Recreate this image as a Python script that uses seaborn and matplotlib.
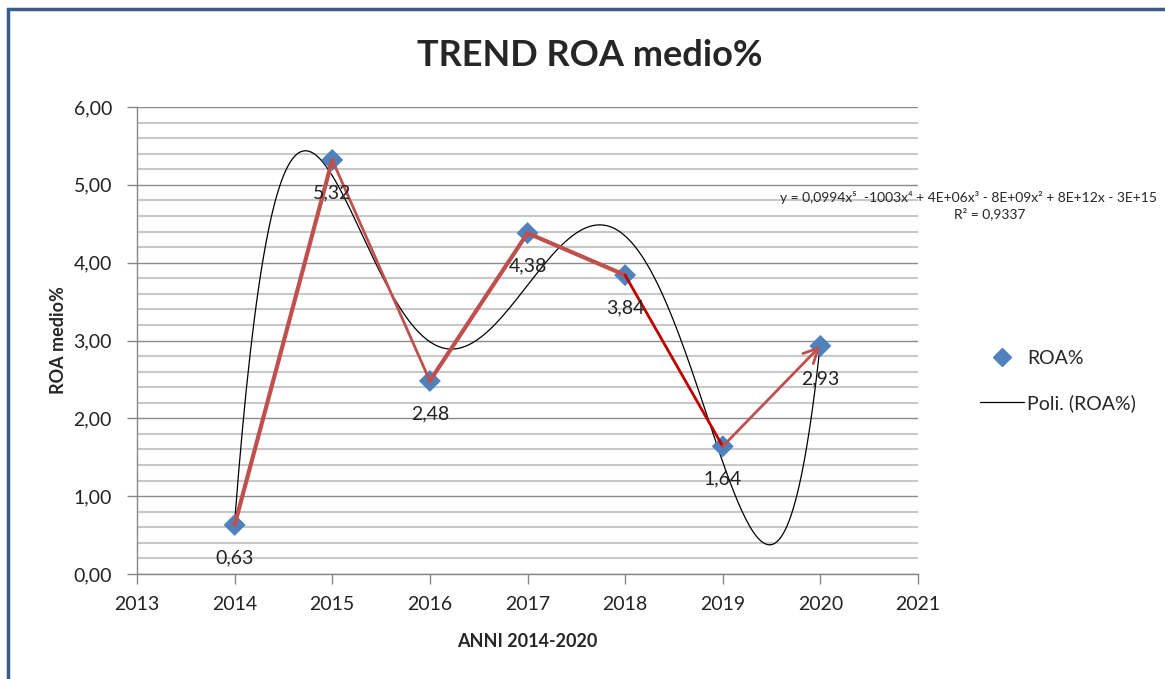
import numpy as np
import pandas as pd
import matplotlib.pyplot as plt
import seaborn as sns
from matplotlib.lines import Line2D
from matplotlib.patches import Rectangle
from matplotlib.ticker import MultipleLocator, FuncFormatter

# dati
anni = [2014, 2015, 2016, 2017, 2018, 2019, 2020]
roa = [0.63, 5.32, 2.48, 4.38, 3.84, 1.64, 2.93]
equazione = "y = 0,0994x\u2075  -1003x\u2074 + 4E+06x\u00b3 - 8E+09x\u00b2 + 8E+12x - 3E+15"
r_quadro = "R\u00b2 = 0,9337"

sns.set_theme(style='white')
plt.rcParams['font.family'] = ['Lato', 'DejaVu Sans']

df = pd.DataFrame({'anno': anni, 'roa': roa})

fig = plt.figure(figsize=(11.65, 6.79), dpi=100)
ax = fig.add_axes([137 / 1165, 1 - 574 / 679, (918 - 137) / 1165, (574 - 107) / 679])

#cornice del grafico
fig.patches.append(Rectangle((8 / 1165, -0.1), 1.2, 1 - 9 / 679 + 0.1, transform=fig.transFigure,
                             fill=False, edgecolor='#385d8a', lw=2.5))

#region trend polinomiale (grado 5)
poly = np.polynomial.Polynomial.fit(df['anno'], df['roa'], 5)
xs = np.linspace(min(anni), max(anni), 300)
sns.lineplot(x=xs, y=poly(xs), color='black', lw=0.9, ax=ax, zorder=3)
#endregion

sns.scatterplot(data=df, x='anno', y='roa', marker='D', s=125, color='#4f81bd',
                edgecolor='none', ax=ax, zorder=4)

# frecce rosse disegnate a mano
seg_colors = ['#c0504d', '#c0504d', '#c0504d', '#c0504d', '#c00000', '#c0504d']
seg_widths = [3, 2, 3, 3, 2, 2]
seg_styles = ['-', '-', '-', '-', '-', '->']
for i in range(len(anni) - 1):
    ax.annotate('', xy=(anni[i + 1], roa[i + 1]), xytext=(anni[i], roa[i]),
                arrowprops=dict(arrowstyle=seg_styles[i], color=seg_colors[i], lw=seg_widths[i],
                                shrinkA=0, shrinkB=0, mutation_scale=26),
                zorder=5)

for x, y in zip(anni, roa):
    ax.annotate(f"{y:.2f}".replace('.', ','), xy=(x, y), xytext=(0, -33), textcoords='offset pixels',
                ha='center', va='center', fontsize=14, color='#222222', zorder=6)

ax.set_xlim(2013, 2021)
ax.set_ylim(0, 6)
ax.xaxis.set_major_locator(MultipleLocator(1))
ax.yaxis.set_major_locator(MultipleLocator(1))
ax.yaxis.set_minor_locator(MultipleLocator(0.2))
ax.yaxis.set_major_formatter(FuncFormatter(lambda v, p: f"{v:.2f}".replace('.', ',')))
ax.xaxis.set_major_formatter(FuncFormatter(lambda v, p: f"{int(v)}"))

ax.grid(axis='y', which='major', color='#8a8a8a', lw=1)
ax.grid(axis='y', which='minor', color='#c8c8c8', lw=1.5)
ax.set_axisbelow(True)
for s in ['top', 'right']:
    ax.spines[s].set_visible(False)
for s in ['left', 'bottom']:
    ax.spines[s].set_color('#868686')
    ax.spines[s].set_linewidth(1)
ax.tick_params(axis='both', which='major', direction='out', length=7, width=1, color='#868686',
               labelsize=14, labelcolor='#222222', left=True, bottom=True)
ax.tick_params(axis='y', which='major', pad=11)
ax.tick_params(axis='x', which='major', pad=9)

ax.set_xlabel('ANNI 2014-2020', fontsize=13, fontweight='bold', labelpad=14)
ax.set_ylabel('ROA medio%', fontsize=13, fontweight='bold', labelpad=5)
fig.text(0.506, 1 - 55 / 679, 'TREND ROA medio%', ha='center', va='center', fontsize=26, fontweight='bold')

fig.text(1157 / 1165, 1 - 197 / 679, equazione, ha='right', va='center', fontsize=10)
fig.text(1025 / 1165, 1 - 214 / 679, r_quadro, ha='right', va='center', fontsize=10)

handles = [Line2D([], [], marker='D', ls='none', color='#4f81bd', markersize=9),
           Line2D([], [], color='black', lw=0.9)]
fig.legend(handles, ['ROA%', 'Poli. (ROA%)'], loc='center left', bbox_to_anchor=(962 / 1165, 1 - 381 / 679),
           frameon=False, fontsize=14, handlelength=2.3, handletextpad=0.15, labelspacing=1.4)

plt.savefig('out.png', dpi=100)
